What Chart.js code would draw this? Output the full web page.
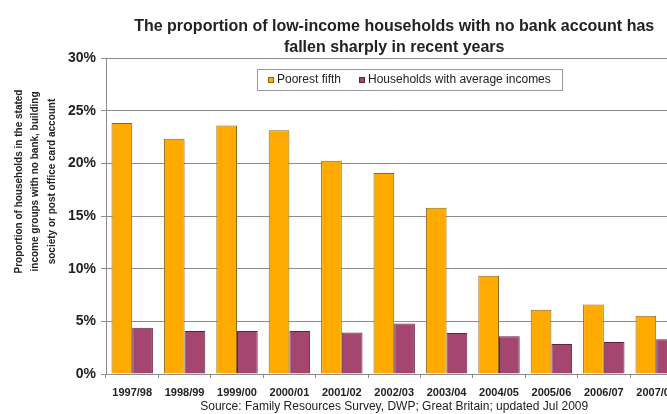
<!DOCTYPE html>
<html>
<head>
<meta charset="utf-8">
<script src="https://cdn.jsdelivr.net/npm/chart.js@4/dist/chart.umd.min.js"></script>
<style>
  html, body { margin: 0; padding: 0; background: #fff; overflow: hidden; }
  #wrap { width: 700px; height: 414px; }
</style>
</head>
<body>
<div id="wrap"><canvas id="c" width="700" height="414"></canvas></div>
<script>
const categories = ['1997/98','1998/99','1999/00','2000/01','2001/02','2002/03','2003/04','2004/05','2005/06','2006/07','2007/08'];
const poorestFifth = [23.85, 22.35, 23.6, 23.15, 20.25, 19.1, 15.8, 9.35, 6.1, 6.6, 5.55];
const averageIncomes = [4.4, 4.1, 4.1, 4.1, 3.95, 4.8, 3.9, 3.6, 2.85, 3.05, 3.3];
const seriesLabels = ['Poorest fifth', 'Households with average incomes'];
const titleLines = ['The proportion of low-income households with no bank account has', 'fallen sharply in recent years'];
const yTitleLines = ['Proportion of households in the stated', 'income groups with no bank, building', 'society or post office card account'];
const sourceText = 'Source: Family Resources Survey, DWP; Great Britain; updated Jul 2009';
const yTicks = [0, 5, 10, 15, 20, 25, 30];

const FONT = '"Liberation Sans", Arial, sans-serif';
Chart.defaults.font.family = FONT;
Chart.defaults.color = '#222';

const yTitlePlugin = {
  id: 'yTitle',
  afterDraw(chart) {
    const ctx = chart.ctx;
    ctx.save();
    ctx.translate(35, 181.5);
    ctx.scale(1.1, 1);
    ctx.rotate(-Math.PI / 2);
    ctx.font = 'bold 10px ' + FONT;
    ctx.fillStyle = '#222';
    ctx.textAlign = 'center';
    ctx.textBaseline = 'middle';
    const sp = 15;
    yTitleLines.forEach((t, i) => ctx.fillText(t, 0, (i - 1) * sp));
    ctx.restore();
  }
};

const boxLegendPlugin = {
  id: 'boxLegend',
  afterDatasetsDraw(chart) {
    const { ctx, chartArea } = chart;
    ctx.save();
    ctx.font = '12px ' + FONT;
    const items = chart.data.datasets.map(ds => ({
      text: ds.label, fill: ds.backgroundColor, stroke: ds.borderColor,
      w: ctx.measureText(ds.label).width
    }));
    const sw = 6, gapT = 3, gapI = 18, padX = 11;
    const total = Math.round(items.reduce((a, it) => a + sw + gapT + it.w, 0) + gapI * (items.length - 1) + padX * 2);
    const cx = chartArea.left + chartArea.width * 0.527;
    const x0 = Math.round(cx - total / 2), y0 = Math.round(chartArea.top + 11), h = 21;
    ctx.fillStyle = '#fff';
    ctx.fillRect(x0, y0, total, h);
    ctx.strokeStyle = '#9a9a9a';
    ctx.lineWidth = 1;
    ctx.strokeRect(x0 + 0.5, y0 + 0.5, total, h);
    let x = x0 + padX;
    const cy = y0 + h / 2 + 0.5;
    items.forEach(it => {
      ctx.fillStyle = it.fill;
      ctx.fillRect(x, cy - 3, sw, 6);
      ctx.strokeStyle = it.stroke;
      ctx.strokeRect(x + 0.5, cy - 2.5, sw - 1, 5);
      x += sw + gapT;
      ctx.fillStyle = '#222';
      ctx.textBaseline = 'middle';
      ctx.fillText(it.text, x, cy);
      x += it.w + gapI;
    });
    ctx.restore();
  }
};

new Chart(document.getElementById('c'), {
  type: 'bar',
  data: {
    labels: categories,
    datasets: [
      { label: seriesLabels[0], data: poorestFifth, backgroundColor: '#FFAA00', borderColor: '#8a6a20', borderWidth: 1 },
      { label: seriesLabels[1], data: averageIncomes, backgroundColor: '#A4466F', borderColor: '#5e2440', borderWidth: 1 }
    ]
  },
  options: {
    responsive: false,
    animation: false,
    events: [],
    layout: { padding: { left: 0, right: 17.6, top: 0, bottom: 0 } },
    datasets: { bar: { categoryPercentage: 0.79, barPercentage: 1.0 } },
    plugins: {
      legend: { display: false },
      tooltip: { enabled: false },
      title: {
        display: true, text: titleLines, fullSize: false,
        font: { size: 16, weight: 'bold', lineHeight: 1.3125 },
        color: '#222',
        padding: { top: 16.2, bottom: 0 }
      },
      subtitle: {
        display: true, text: sourceText, position: 'bottom', fullSize: false,
        font: { size: 12, weight: 'normal', lineHeight: 1.2 },
        color: '#222',
        padding: { top: 0, bottom: 0 }
      }
    },
    scales: {
      x: {
        afterFit(scale) { scale.height = 25.5; },
        grid: { display: true, drawOnChartArea: false, offset: true, tickLength: 4, color: '#8c8c8c' },
        border: { display: true, color: '#8c8c8c' },
        ticks: { font: { size: 11, weight: 'bold' }, color: '#222', padding: 8, maxRotation: 0, autoSkip: false }
      },
      y: {
        min: 0, max: 30,
        afterFit(scale) { scale.width = 106; },
        afterBuildTicks(scale) { scale.ticks = yTicks.map(v => ({ value: v })); },
        grid: { color: '#8c8c8c', tickLength: 5 },
        border: { display: true, color: '#8c8c8c' },
        ticks: { font: { size: 14, weight: 'bold' }, color: '#222', padding: 5, callback: v => v + '%' }
      }
    }
  },
  plugins: [yTitlePlugin, boxLegendPlugin]
});
</script>
</body>
</html>
